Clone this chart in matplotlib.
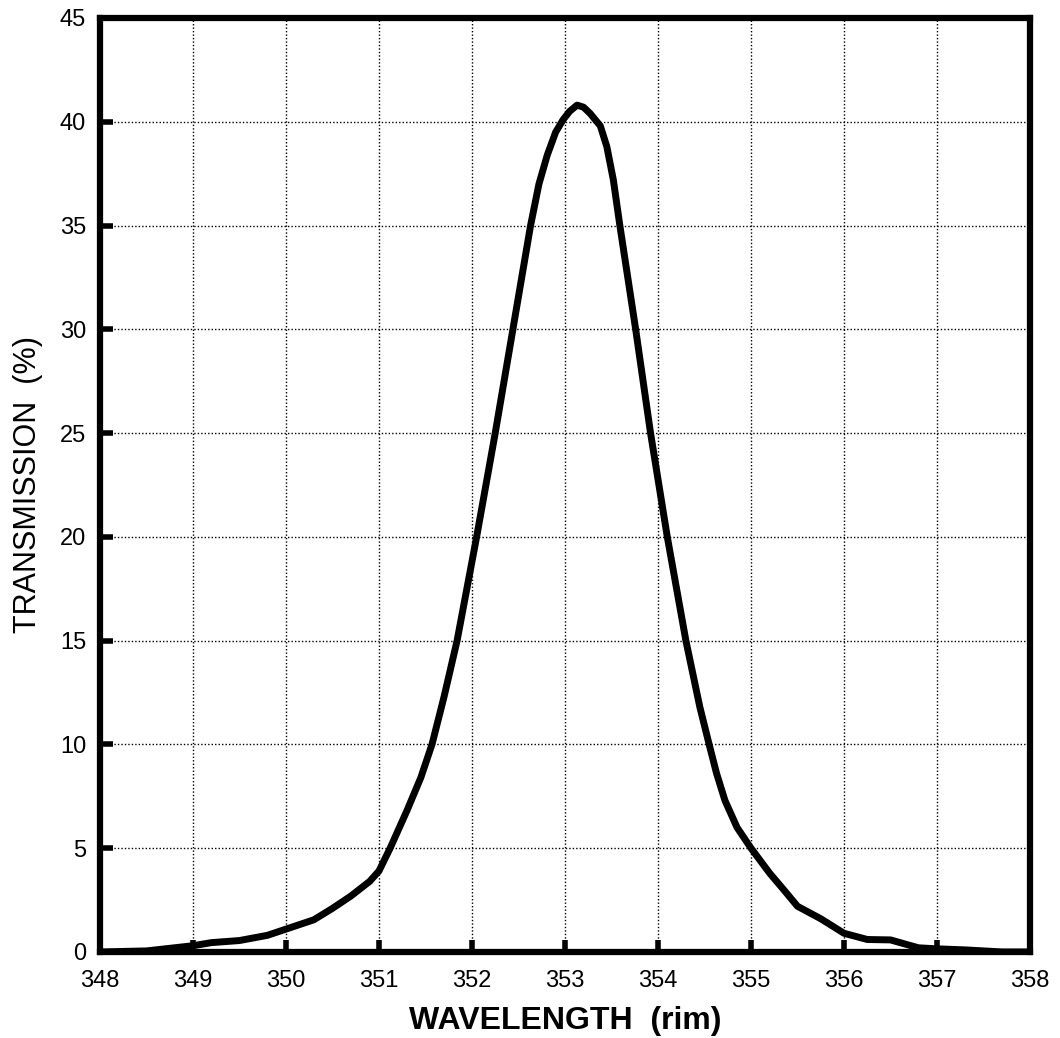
import numpy as np
import matplotlib.pyplot as plt

# %% Data

wavelength = [348.0, 348.5, 348.8, 349.0, 349.2, 349.5, 349.8, 350.0, 350.3, 350.5,
              350.7, 350.9, 351.0, 351.12, 351.3, 351.45, 351.57, 351.7, 351.84, 352.05,
              352.25, 352.44, 352.63, 352.72, 352.81, 352.9, 352.98, 353.05, 353.13, 353.2,
              353.27, 353.38, 353.45, 353.52, 353.59, 353.76, 353.92, 354.1, 354.3, 354.45,
              354.55, 354.63, 354.72, 354.85, 355.0, 355.2, 355.37, 355.5, 355.75, 356.0,
              356.25, 356.5, 356.8, 357.0, 357.3, 357.7, 358.0]
transmission = [0.0, 0.05, 0.2, 0.3, 0.45, 0.55, 0.8, 1.1, 1.55, 2.1,
                2.7, 3.4, 3.9, 5.0, 6.8, 8.4, 10.0, 12.3, 15.0, 20.0,
                25.0, 30.0, 35.0, 37.0, 38.4, 39.5, 40.1, 40.5, 40.8, 40.7,
                40.4, 39.8, 38.8, 37.2, 35.0, 30.0, 25.0, 20.0, 15.0, 11.8,
                10.0, 8.6, 7.3, 6.0, 5.0, 3.8, 2.9, 2.2, 1.6, 0.9,
                0.6, 0.58, 0.2, 0.15, 0.1, 0.0, 0.0]

x_ticks = list(range(348, 359))
y_ticks = list(range(0, 46, 5))

# %% Plot

plt.rcParams['font.family'] = ['Liberation Sans', 'DejaVu Sans']

fig = plt.figure(figsize=(10.6, 10.38), dpi=100)
ax = fig.add_axes([0.0943, 0.0829, 0.8774, 0.8998])

ax.plot(wavelength, transmission, color='black', lw=5, solid_joinstyle='round',
        solid_capstyle='round')

ax.set_xlim(348, 358)
ax.set_ylim(0, 45)
ax.set_xticks(x_ticks)
ax.set_yticks(y_ticks)
ax.grid(True, color='black', linestyle=(0, (1, 1.5)), lw=1.0)

for s in ax.spines.values():
    s.set_linewidth(4.5)

ax.tick_params(direction='in', length=9, width=4, labelsize=17)
ax.tick_params(axis='x', pad=13)
ax.tick_params(axis='y', pad=10)

ax.set_ylabel('TRANSMISSION  (%)', fontsize=22, labelpad=12)
ax.set_xlabel('WAVELENGTH  (rim)', fontsize=23, fontweight='bold', labelpad=10)

plt.savefig('out.png', dpi=100, facecolor='white')
